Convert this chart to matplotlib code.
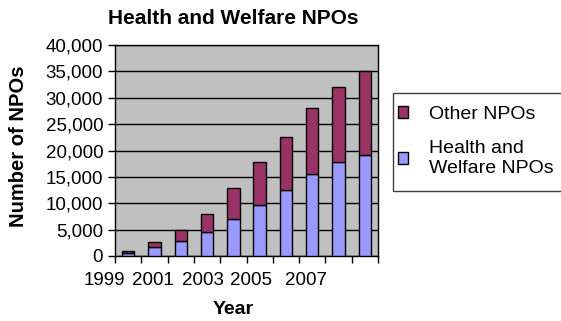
# plot.py
# Barras apiladas: NPOs de salud y bienestar vs otras NPOs, 1999-2008
import numpy as np
import matplotlib.pyplot as plt
from matplotlib.patches import Rectangle

plt.rcParams["font.family"] = ["Liberation Sans", "DejaVu Sans"]

# ---------------------------------------------------------------------
# Datos
# ---------------------------------------------------------------------
years = [1999, 2000, 2001, 2002, 2003, 2004, 2005, 2006, 2007, 2008]
total_npos = [1000, 2600, 4900, 8000, 12800, 17800, 22600, 28000, 32000, 35000]
health_npos = [500, 1700, 2900, 4550, 7100, 9600, 12450, 15550, 17800, 19200]
other_npos = [t - h for t, h in zip(total_npos, health_npos)]

year_labels = ["1999", "2001", "2003", "2005", "2007"]
# posición (en unidades de categoría) donde Excel dejó cada etiqueta
year_label_x = [-0.9, 0.96, 2.83, 4.69, 6.78]

yticks = np.arange(0, 40001, 5000)

C_HEALTH = "#9999FF"
C_OTHER = "#993366"
C_BG = "#C0C0C0"

W, H = 561, 321
fig = plt.figure(figsize=(W / 100, H / 100), dpi=100)
ax = fig.add_axes([115 / W, 1 - 256 / H, (378 - 115) / W, (256 - 45) / H])
ax.set_facecolor(C_BG)

x = np.arange(len(years))
b_health = ax.bar(x, health_npos, width=0.47, color=C_HEALTH,
                  edgecolor="black", linewidth=1.0, zorder=3,
                  label="Health and\nWelfare NPOs")
b_other = ax.bar(x, other_npos, width=0.47, bottom=health_npos, color=C_OTHER,
                 edgecolor="black", linewidth=1.0, zorder=3, label="Other NPOs")

ax.set_xlim(-0.5, len(years) - 0.5)
ax.set_ylim(0, 40000)
ax.set_yticks(yticks)
ax.set_yticklabels([f"{v:,.0f}" for v in yticks], fontsize=13.5)
ax.yaxis.grid(True, color="black", linewidth=1.0, zorder=1)
ax.set_axisbelow(True)

# marcas entre categorías, sin etiquetas
ax.set_xticks(np.arange(-0.5, len(years), 1.0))
ax.set_xticklabels([])
ax.tick_params(axis="both", direction="out", length=5, width=1, color="black")
for sp in ax.spines.values():
    sp.set_color("black")
    sp.set_linewidth(1.0)

for lab, xp in zip(year_labels, year_label_x):
    ax.text(xp, -0.076, lab, transform=ax.get_xaxis_transform(),
            ha="center", va="top", fontsize=13.5, clip_on=False)

fig.text(233 / W, 1 - 18 / H, "Health and Welfare NPOs", ha="center",
         va="center", fontsize=15, fontweight="bold")
fig.text(233 / W, 1 - 309 / H, "Year", ha="center", va="center",
         fontsize=14, fontweight="bold")
fig.text(19 / W, 1 - 146 / H, "Number of NPOs", ha="center", va="center",
         rotation=90, fontsize=14.5, fontweight="bold")

# leyenda con marco propio (se sale por la derecha como en el original)
fig.patches.append(Rectangle((393 / W, 1 - 191 / H), 180 / W, 98 / H,
                             transform=fig.transFigure, facecolor="white",
                             edgecolor="#404040", linewidth=1.0))
fig.legend([b_other, b_health], ["Other NPOs", "Health and\nWelfare NPOs"],
           loc="upper left", bbox_to_anchor=(384 / W, 1 - 92 / H),
           frameon=False, fontsize=14, handlelength=0.55, handleheight=0.55,
           handletextpad=1.05, labelspacing=0.9, borderpad=0.2)

fig.savefig("out.png", dpi=100)
